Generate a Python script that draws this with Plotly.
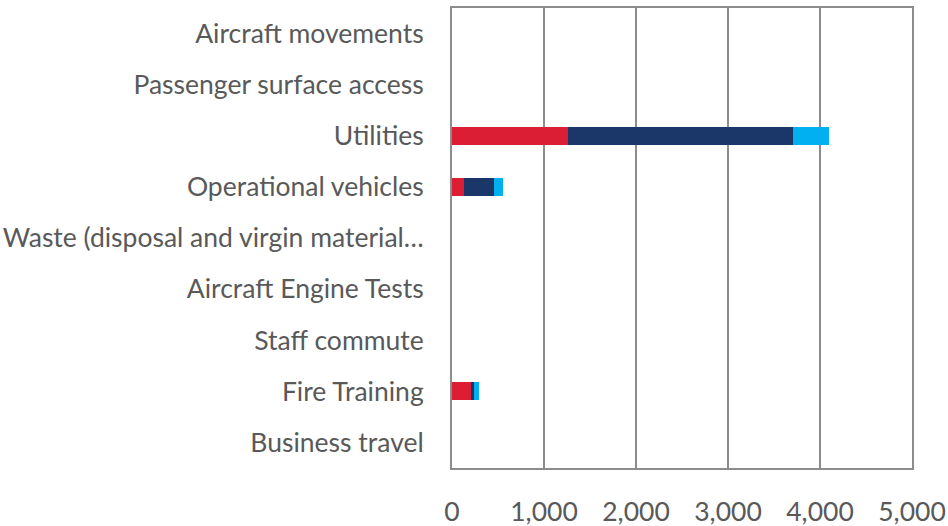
import plotly.graph_objects as go

categories = [
    "Aircraft movements",
    "Passenger surface access",
    "Utilities",
    "Operational vehicles",
    "Waste (disposal and virgin material…",
    "Aircraft Engine Tests",
    "Staff commute",
    "Fire Training",
    "Business travel",
]
series_names = ["Series 1", "Series 2", "Series 3"]
series1 = [0, 0, 1260, 130, 0, 0, 0, 207, 0]
series2 = [0, 0, 2447, 327, 0, 0, 0, 32, 0]
series3 = [0, 0, 391, 97, 0, 0, 0, 54, 0]
colors = ["#DC1E35", "#1B3668", "#00B0F0"]
x_ticks = [0, 1000, 2000, 3000, 4000, 5000]
x_tick_labels = ["0", "1,000", "2,000", "3,000", "4,000", "5,000"]

fig = go.Figure()
for name, vals, c in zip(series_names, [series1, series2, series3], colors):
    fig.add_trace(go.Bar(
        y=categories, x=vals, name=name, orientation="h",
        marker=dict(color=c, line=dict(width=0)),
    ))

grid = "#8C8C8C"
fig.update_layout(
    barmode="stack",
    bargap=0.65,
    width=948, height=526,
    margin=dict(l=452, r=36, t=8, b=58, autoexpand=False),
    paper_bgcolor="white", plot_bgcolor="white",
    showlegend=False,
    font=dict(family="Lato, Open Sans, sans-serif", size=26.5, color="#595959"),
    xaxis=dict(
        range=[0, 5000], tickvals=x_ticks, ticktext=x_tick_labels,
        showgrid=True, gridcolor=grid, gridwidth=2,
        showline=True, linecolor=grid, linewidth=2, mirror=True,
        zeroline=False, ticks="", ticklabelstandoff=19, automargin=False,
    ),
    yaxis=dict(
        categoryorder="array", categoryarray=categories[::-1],
        autorange=True, showgrid=False,
        showline=True, linecolor=grid, linewidth=2, mirror=True,
        ticks="", ticklabelstandoff=21, automargin=False,
    ),
)
fig.write_html("out.html", config={"displayModeBar": False},
               post_script="document.body.style.margin='0';")
